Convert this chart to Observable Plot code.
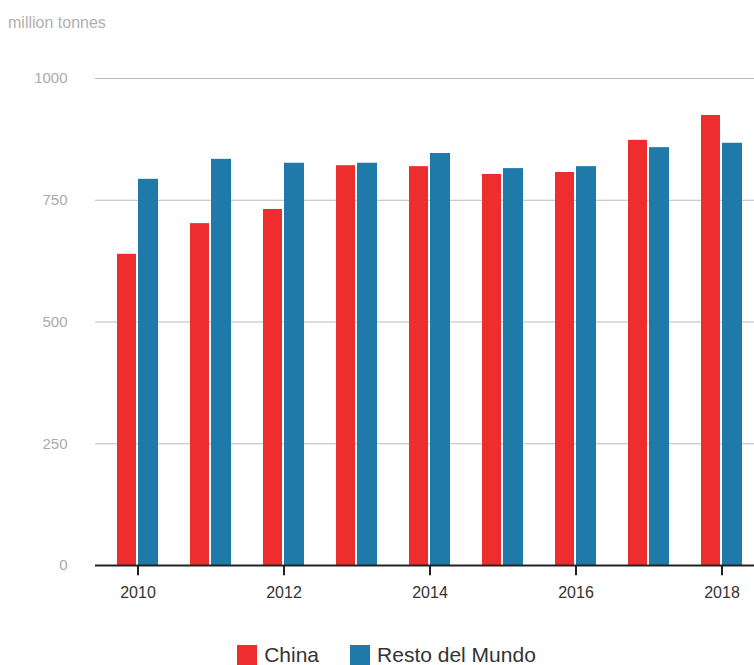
<!DOCTYPE html>
<html>
<head>
<meta charset="utf-8">
<script src="https://cdn.jsdelivr.net/npm/d3@7"></script>
<script src="https://cdn.jsdelivr.net/npm/@observablehq/plot@0.6"></script>
<style>
  body { margin: 0; background: #fff; font-family: "Liberation Sans", Arial, Helvetica, sans-serif; }
  #unit { height: 50px; box-sizing: border-box; padding: 14px 0 0 8px; font-size: 16px; color: #b0b0b0; }
  #chart svg { display: block; }
  #legend { height: 40px; display: flex; justify-content: center; align-items: center; padding: 20px 0 0 18px; box-sizing: border-box; }
  .item { display: flex; align-items: center; font-size: 21px; color: #333; margin: 0 15px 0 16px; }
  .sw { width: 20px; height: 20px; margin-right: 7px; }
</style>
</head>
<body>
<div id="unit">million tonnes</div>
<div id="chart"></div>
<div id="legend"></div>
<script>
const years = [2010, 2011, 2012, 2013, 2014, 2015, 2016, 2017, 2018];
const china = [639, 702, 731, 821, 819, 803, 807, 873, 924];
const restOfWorld = [793, 834, 826, 826, 846, 815, 819, 858, 867];
const seriesNames = ["China", "Resto del Mundo"];
const seriesColors = ["#ee2e2e", "#1f7aaa"];
const yTicks = [0, 250, 500, 750, 1000];
const xTicks = [2010, 2012, 2014, 2016, 2018];
const tickDepth = -21; // tick length below the baseline, in data units

const rowsChina = years.map((y, i) => ({year: y, value: china[i], series: seriesNames[0]}));
const rowsRow = years.map((y, i) => ({year: y, value: restOfWorld[i], series: seriesNames[1]}));

const chart = Plot.plot({
  width: 754,
  height: 575,
  marginLeft: 95,
  marginRight: 0,
  marginTop: 28,
  marginBottom: 60,
  style: {fontFamily: '"Liberation Sans", Arial, Helvetica, sans-serif', background: "#fff", overflow: "visible"},
  x: {type: "band", domain: years, range: [100, 759], padding: 0, axis: null},
  y: {domain: [0, 1000], range: [515, 28], axis: null},
  color: {domain: seriesNames, range: seriesColors},
  marks: [
    Plot.gridY(yTicks, {stroke: "#bbb", strokeOpacity: 1, strokeWidth: 1}),
    Plot.axisY(yTicks, {tickSize: 0, tickPadding: 28, fontSize: 15, fill: "#aaa", label: null, tickFormat: d => String(d)}),
    Plot.barY(rowsChina, {x: "year", y: "value", fill: "series", insetLeft: 16, insetRight: 38}),
    Plot.barY(rowsRow, {x: "year", y: "value", fill: "series", insetLeft: 37, insetRight: 16}),
    Plot.ruleX(xTicks, {x: d => d, y1: 0, y2: tickDepth, stroke: "#222", strokeWidth: 2}),
    Plot.ruleY([0], {stroke: "#222", strokeWidth: 2}),
    Plot.axisX(xTicks, {tickSize: 0, tickPadding: 21, fontSize: 16, fill: "#333", label: null, tickFormat: d => String(d)})
  ]
});
document.getElementById("chart").appendChild(chart);

const legend = document.getElementById("legend");
seriesNames.forEach((name, i) => {
  const item = document.createElement("div");
  item.className = "item";
  const sw = document.createElement("div");
  sw.className = "sw";
  sw.style.background = seriesColors[i];
  item.appendChild(sw);
  item.appendChild(document.createTextNode(name));
  legend.appendChild(item);
});
</script>
</body>
</html>
